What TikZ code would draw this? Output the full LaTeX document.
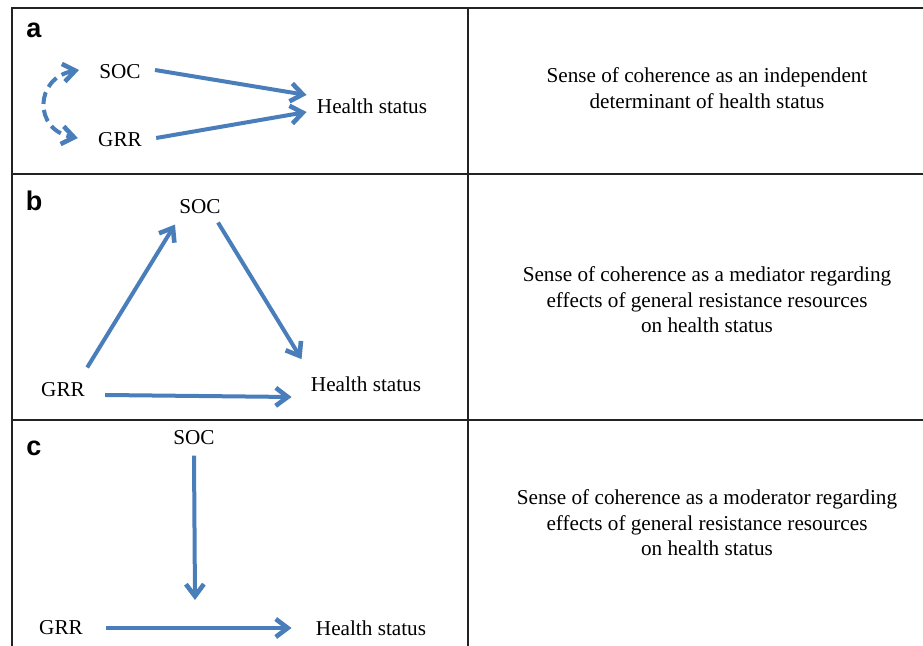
\documentclass[tikz,border=0pt]{standalone}
\usepackage{fontspec}
\setmainfont{Liberation Serif}
\newfontfamily\tagfont{Liberation Sans}
\usetikzlibrary{arrows.meta, positioning}
\usepackage{xcolor}
\definecolor{blu}{HTML}{4A7EBB}
\definecolor{blk}{HTML}{222222}
\tikzset{
  var/.style  = {inner sep=2pt, font=\fontsize{10.6}{12.8}\selectfont, text=black},
  desc/.style = {inner sep=2pt, align=center, font=\fontsize{10.6}{12.75}\selectfont, text=black},
  tag/.style  = {inner sep=1pt, font=\tagfont\bfseries\fontsize{13.5}{14}\selectfont, text=black},
  barb/.tip   = {Straight Barb[length=6pt, width=9pt, line width=0.3pt 1]},
  arr/.style  = {-barb, line width=2pt, color=blu},
  darr/.style = {barb-barb, line width=2pt, color=blu, dash pattern=on 6pt off 3pt},
  rule/.style = {line width=1pt, draw=blk},
}

\begin{document}
\begin{tikzpicture}[x=0.5pt, y=-0.5pt]

  \useasboundingbox (0,0) rectangle (923,646);

  % table rules
  \draw[rule] (12,646) -- (12,8) -- (923,8);
  \draw[rule] (468,8) -- (468,646);
  \draw[rule] (12,174) -- (923,174);
  \draw[rule] (12,420) -- (923,420);

  % panel a: independent determinant
  \node[tag] (tagA) at (34,30) {a};
  \node[var] (socA) at (120,72)  {SOC};
  \node[var] (grrA) at (120,140) {GRR};
  \node[var] (hsA)  at (372,106) {Health status};
  \draw[arr] ([xshift=5pt,yshift=1pt]socA.east) -- ([xshift=-3pt,yshift=5.5pt]hsA.west);
  \draw[arr] ([xshift=5pt,yshift=1pt]grrA.east) -- ([xshift=-3pt,yshift=-3pt]hsA.west);
  \draw[darr] ([xshift=-8pt,yshift=1pt]socA.west) to[out=190, in=170, looseness=1.7] ([xshift=-8pt,yshift=1pt]grrA.west);

  % panel b: mediator
  \node[tag] (tagB) at (34,201) {b};
  \node[var] (socB) at (200,207) {SOC};
  \node[var] (grrB) at (63,390)  {GRR};
  \node[var] (hsB)  at (366,384) {Health status};
  \draw[arr] ([xshift=-1pt,yshift=5.5pt]grrB.north east) -- ([yshift=-3pt]socB.south west);
  \draw[arr] ([xshift=-3.5pt,yshift=-2pt]socB.south east) -- ([xshift=-2.5pt,yshift=6.5pt]hsB.north west);
  \draw[arr] ([xshift=8pt,yshift=-2.5pt]grrB.east) -- ([xshift=-7.5pt,yshift=-6.5pt]hsB.west);

  % panel c: moderator
  \node[tag] (tagC) at (34,448) {c};
  \node[var] (socC) at (194,438) {SOC};
  \node[var] (grrC) at (61,628)  {GRR};
  \node[var] (hsC)  at (371,628) {Health status};
  \coordinate (modC) at (195,600);
  \draw[arr] ([yshift=-3pt]socC.south) -- (modC);
  \draw[arr] ([xshift=9.5pt]grrC.east) -- ([xshift=-10pt]hsC.west);

  % descriptions
  \node[desc] (dscA) at (707,88)  {Sense of coherence as an independent\\determinant of health status};
  \node[desc] (dscB) at (707,300) {Sense of coherence as a mediator regarding\\effects of general resistance resources\\on health status};
  \node[desc] (dscC) at (707,523) {Sense of coherence as a moderator regarding\\effects of general resistance resources\\on health status};

\end{tikzpicture}
\end{document}
